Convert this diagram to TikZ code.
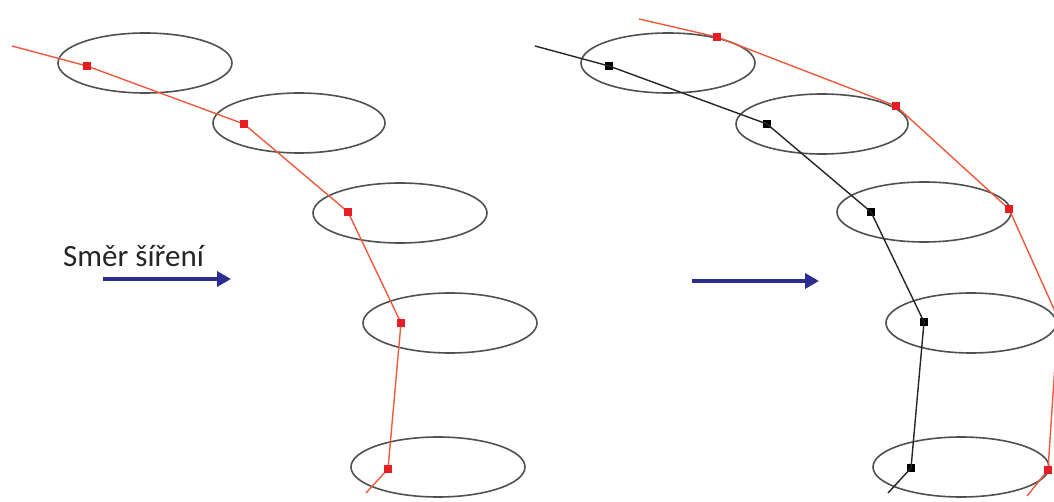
\documentclass[tikz,border=0pt]{standalone}
\usepackage{fontspec}
\setmainfont{Carlito}
\usetikzlibrary{arrows.meta}
\definecolor{ringgray}{RGB}{80,80,80}
\definecolor{pathred}{RGB}{240,90,60}
\definecolor{dotred}{RGB}{230,30,35}
\definecolor{arrowblue}{RGB}{45,45,145}
\tikzset{
  ring/.style={draw=ringgray, line width=1.6pt},
  redpath/.style={draw=pathred, line width=1.4pt},
  blackpath/.style={draw=black!85, line width=1.4pt},
  reddot/.style={fill=dotred, draw=none, minimum size=8pt, inner sep=0pt, rectangle},
  blackdot/.style={fill=black, draw=none, minimum size=8pt, inner sep=0pt, rectangle},
  dirarrow/.style={draw=arrowblue, line width=4pt, -{Triangle[length=14pt,width=15pt]}},
  lbl/.style={font=\fontsize{31}{36}\selectfont, text=black!85, inner sep=0pt}
}
\begin{document}
\begin{tikzpicture}[x=1pt,y=-1pt]
\useasboundingbox (0,0) rectangle (1054,502);
\clip (0,0) rectangle (1054,502);
\fill[white] (0,0) rectangle (1054,502);
% left ellipses
\draw[ring] (145,63) ellipse [x radius=87, y radius=30];
\draw[ring] (299,123) ellipse [x radius=86, y radius=30];
\draw[ring] (400,213) ellipse [x radius=87, y radius=30];
\draw[ring] (450,323) ellipse [x radius=87, y radius=30];
\draw[ring] (438,467) ellipse [x radius=87, y radius=30];
% left path
\coordinate (ls) at (12,46);
\coordinate (le) at (366,493);
\node[reddot] (p1) at (87,66) {};
\node[reddot] (p2) at (244,124) {};
\node[reddot] (p3) at (348,212) {};
\node[reddot] (p4) at (401,323) {};
\node[reddot] (p5) at (388,469) {};
\draw[redpath] (ls) -- (p1.center) -- (p2.center) -- (p3.center) -- (p4.center) -- (p5.center) -- (le);
\foreach \n in {p1,p2,p3,p4,p5} \node[reddot] at (\n) {};
% label and left arrow
\node[lbl, anchor=base west] (lab) at (63,267) {Směr šíření};
\coordinate (la1) at (103,279);
\coordinate (la2) at (231,279);
\draw[dirarrow] (la1) -- (la2);
% right ellipses
\draw[ring] (668,63) ellipse [x radius=87, y radius=30];
\draw[ring] (822,124) ellipse [x radius=86, y radius=30];
\draw[ring] (924,212) ellipse [x radius=87, y radius=30];
\draw[ring] (971,323) ellipse [x radius=85, y radius=30];
\draw[ring] (961,467) ellipse [x radius=88, y radius=30];
% right black path
\coordinate (bs) at (535,46);
\coordinate (be) at (888,493);
\node[blackdot] (b1) at (609,66) {};
\node[blackdot] (b2) at (767,124) {};
\node[blackdot] (b3) at (871,212) {};
\node[blackdot] (b4) at (924,322) {};
\node[blackdot] (b5) at (911,468) {};
\draw[blackpath] (bs) -- (b1.center) -- (b2.center) -- (b3.center) -- (b4.center) -- (b5.center) -- (be);
% right red path
\coordinate (qs) at (639,19);
\coordinate (qe) at (1027,496);
\node[reddot] (q1) at (717,37) {};
\node[reddot] (q2) at (896,106) {};
\node[reddot] (q3) at (1009,209) {};
\node[reddot] (q4) at (1058,318) {};
\node[reddot] (q5) at (1048,470) {};
\draw[redpath] (qs) -- (q1.center) -- (q2.center) -- (q3.center) -- (q4.center) -- (q5.center) -- (qe);
\foreach \n in {q1,q2,q3,q4,q5} \node[reddot] at (\n) {};
% right arrow
\coordinate (ra1) at (692,281);
\coordinate (ra2) at (819,281);
\draw[dirarrow] (ra1) -- (ra2);
\end{tikzpicture}
\end{document}
